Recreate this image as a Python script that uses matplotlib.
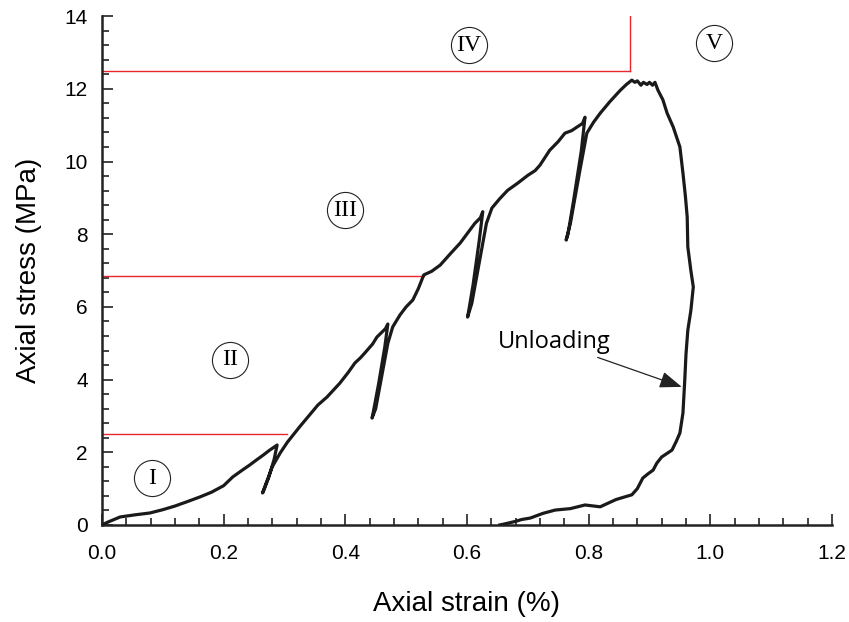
import matplotlib
matplotlib.use("Agg")
import matplotlib.pyplot as plt
from matplotlib.ticker import MultipleLocator, FormatStrFormatter

# Stress-strain curve (axial strain %, axial stress MPa)
strain = [0.000, 0.010, 0.030, 0.055, 0.079, 0.100, 0.120, 0.140, 0.161, 0.180, 0.200, 0.215,
          0.230, 0.243, 0.255, 0.265, 0.275, 0.281, 0.288,
          0.283, 0.274, 0.266, 0.264, 0.270, 0.280, 0.293, 0.305, 0.325,
          0.340, 0.355, 0.370, 0.380, 0.391, 0.405, 0.416, 0.425, 0.432, 0.445, 0.452, 0.460, 0.466, 0.470,
          0.465, 0.455, 0.446, 0.444, 0.450, 0.460, 0.470, 0.478, 0.490, 0.500, 0.511,
          0.520, 0.529, 0.542, 0.556, 0.572, 0.589, 0.602, 0.613, 0.622, 0.626,
          0.620, 0.610, 0.603, 0.601, 0.608, 0.620, 0.632, 0.641, 0.654, 0.667,
          0.683, 0.700, 0.712, 0.720, 0.736, 0.750, 0.761, 0.772, 0.781, 0.790, 0.794,
          0.788, 0.775, 0.766, 0.763, 0.770, 0.785, 0.797, 0.808, 0.819, 0.835, 0.852,
          0.862, 0.871, 0.876, 0.880, 0.886, 0.890, 0.896, 0.900, 0.905, 0.909, 0.914, 0.922, 0.929,
          0.939, 0.950, 0.955, 0.959, 0.962, 0.963, 0.968, 0.972, 0.968, 0.963, 0.960, 0.958, 0.955, 0.950,
          0.944, 0.937, 0.928, 0.920, 0.912, 0.906, 0.897, 0.889, 0.880, 0.871, 0.845, 0.819, 0.794,
          0.770, 0.745, 0.725, 0.704, 0.690, 0.680, 0.665, 0.654]
stress = [0.00, 0.08, 0.22, 0.28, 0.33, 0.42, 0.52, 0.64, 0.77, 0.90, 1.08, 1.32,
          1.50, 1.65, 1.80, 1.92, 2.05, 2.12, 2.20,
          1.80, 1.30, 0.95, 0.88, 1.15, 1.60, 1.98, 2.28, 2.70,
          3.00, 3.30, 3.52, 3.70, 3.90, 4.20, 4.46, 4.60, 4.73, 4.98, 5.17, 5.30, 5.40, 5.53,
          4.90, 3.90, 3.10, 2.94, 3.20, 4.10, 5.00, 5.45, 5.78, 6.00, 6.19,
          6.50, 6.88, 6.98, 7.15, 7.45, 7.76, 8.05, 8.30, 8.45, 8.62,
          7.80, 6.60, 5.90, 5.72, 6.10, 7.20, 8.30, 8.72, 8.98, 9.21,
          9.40, 9.62, 9.75, 9.90, 10.31, 10.55, 10.78, 10.85, 10.95, 11.05, 11.22,
          10.30, 8.90, 8.00, 7.84, 8.30, 9.70, 10.78, 11.08, 11.33, 11.65, 11.96,
          12.12, 12.24, 12.18, 12.22, 12.10, 12.18, 12.12, 12.18, 12.10, 12.18, 11.96, 11.70, 11.33,
          10.95, 10.40, 9.68, 9.05, 8.47, 7.65, 7.00, 6.55, 5.90, 5.36, 4.70, 3.99, 3.08, 2.53,
          2.30, 2.06, 1.96, 1.87, 1.70, 1.51, 1.40, 1.29, 1.00, 0.83, 0.70, 0.50, 0.55,
          0.45, 0.41, 0.32, 0.19, 0.15, 0.10, 0.04, 0.00]

# Stage boundary lines (red)
bound_stress = [2.5, 6.85, 12.48]
bound_strain_end = [0.304, 0.529, 0.868]
stage4_vertical_x = 0.868

# Stage labels
stage_labels = ["I", "II", "III", "IV", "V"]
stage_x = [0.082, 0.210, 0.400, 0.603, 1.006]
stage_y = [1.29, 4.54, 8.66, 13.20, 13.26]

fig = plt.figure(figsize=(8.49, 6.22), dpi=100)
ax = fig.add_axes([0.120, 0.156, 0.860, 0.818])

ax.plot(strain, stress, color="#1a1a1a", lw=2.3, solid_joinstyle="round", zorder=3)

for s, xe in zip(bound_stress, bound_strain_end):
    ax.plot([0, xe], [s, s], color="#e8262b", lw=1.0, zorder=2)
ax.plot([stage4_vertical_x, stage4_vertical_x], [bound_stress[2], 14], color="#e8262b", lw=1.0, zorder=2)

for lab, x, y in zip(stage_labels, stage_x, stage_y):
    ax.plot([x], [y], marker="o", ms=26, mfc="white", mec="#222222", mew=0.8, zorder=4)
    ax.text(x, y, lab, family="Liberation Serif", fontsize=17, ha="center", va="center", zorder=5)

ax.annotate("Unloading", xy=(0.953, 3.80), xytext=(0.836, 5.03),
            family="Open Sans", fontsize=17, ha="right", va="center",
            arrowprops=dict(arrowstyle="-|>,head_length=0.8,head_width=0.3", color="#222222",
                            lw=0.9, shrinkA=1, shrinkB=0))

ax.set_xlim(0, 1.2)
ax.set_ylim(0, 14)
ax.xaxis.set_major_locator(MultipleLocator(0.2))
ax.xaxis.set_minor_locator(MultipleLocator(0.04))
ax.yaxis.set_major_locator(MultipleLocator(2))
ax.yaxis.set_minor_locator(MultipleLocator(0.4))
ax.xaxis.set_major_formatter(FormatStrFormatter("%.1f"))
ax.tick_params(which="both", direction="in", width=1.2, color="#222222", labelsize=15)
ax.tick_params(which="major", length=8)
ax.tick_params(which="minor", length=5)
ax.tick_params(axis="x", which="major", pad=14)
ax.tick_params(axis="y", which="major", pad=10)
for lbl in ax.get_xticklabels() + ax.get_yticklabels():
    lbl.set_family("Liberation Sans")
ax.spines["top"].set_visible(False)
ax.spines["right"].set_visible(False)
for sp in ("left", "bottom"):
    ax.spines[sp].set_linewidth(1.8)
    ax.spines[sp].set_color("#222222")

ax.set_xlabel("Axial strain (%)", family="Liberation Sans", fontsize=20, labelpad=20)
ax.set_ylabel("Axial stress (MPa)", family="Liberation Sans", fontsize=20, labelpad=16)

fig.savefig("out.png", dpi=100)
